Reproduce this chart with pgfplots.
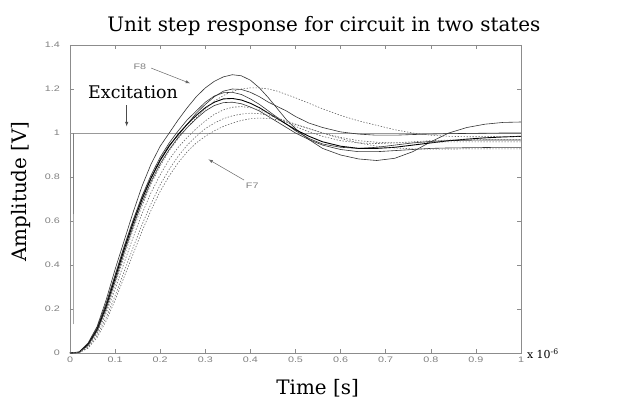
\documentclass[border=0pt]{standalone}
\usepackage{fontspec}
\setmainfont{DejaVu Serif}
\newfontfamily\ticksans{Liberation Sans}
\usepackage{pgfplots}
\pgfplotsset{compat=1.18}
\begin{document}
\begin{tikzpicture}
\begin{axis}[name=ax, scale only axis, width=451bp, height=308bp,
  xmin=0, xmax=1, ymin=0, ymax=1.4, clip=false,
  xtick={0,0.1,0.2,0.3,0.4,0.5,0.6,0.7,0.8,0.9,1},
  xticklabels={0,0.1,0.2,0.3,0.4,0.5,0.6,0.7,0.8,0.9,1},
  ytick={0,0.2,0.4,0.6,0.8,1,1.2,1.4},
  yticklabels={0,0.2,0.4,0.6,0.8,1,1.2,1.4},
  tick label style={font=\ticksans\fontsize{8}{9}\selectfont, text=black!50, xscale=1.35},
  yticklabel style={xshift=-4bp},
  axis line style={black!45, line width=1pt},
  major tick style={black!45, line width=0.6pt}, major tick length=4bp,
  tick align=inside,
  sol/.style={black!80, line width=0.6pt},
  dot/.style={black!60, line width=0.6pt, dash pattern=on 1.4pt off 1.6pt},
]
% excitation
\addplot[black!40, line width=1pt] coordinates {(0,1)(1,1)};
\addplot[black!35, line width=0.8pt] coordinates {(0.008,0.13)(0.008,1)};
\addplot[black!50, line width=1.2pt] coordinates {(0.008,0.63)(0.008,1)};
% F8 (solid)
\addplot[sol] coordinates {(0,0)(0.02,0.005)(0.04,0.045)(0.06,0.12)(0.08,0.24)(0.10,0.38)(0.12,0.51)(0.14,0.64)(0.16,0.76)(0.18,0.86)(0.20,0.94)(0.22,1.0)(0.24,1.06)(0.26,1.115)(0.28,1.165)(0.30,1.205)(0.32,1.235)(0.34,1.255)(0.36,1.265)(0.38,1.26)(0.40,1.24)(0.42,1.205)(0.44,1.16)(0.46,1.11)(0.48,1.06)(0.50,1.02)(0.53,0.97)(0.56,0.93)(0.60,0.90)(0.64,0.882)(0.68,0.875)(0.72,0.885)(0.76,0.915)(0.80,0.96)(0.84,1.0)(0.88,1.025)(0.92,1.04)(0.96,1.048)(1.0,1.05)};
\addplot[sol] coordinates {(0,0)(0.02,0.003)(0.04,0.04)(0.06,0.11)(0.08,0.22)(0.10,0.35)(0.12,0.48)(0.14,0.60)(0.16,0.71)(0.18,0.80)(0.20,0.88)(0.22,0.945)(0.24,0.99)(0.26,1.04)(0.28,1.09)(0.30,1.13)(0.32,1.165)(0.34,1.19)(0.36,1.20)(0.38,1.198)(0.40,1.185)(0.42,1.165)(0.44,1.14)(0.46,1.12)(0.48,1.10)(0.50,1.075)(0.53,1.045)(0.56,1.025)(0.60,1.005)(0.64,0.995)(0.68,0.99)(0.72,0.99)(0.76,0.993)(0.80,0.995)(0.84,0.997)(0.88,0.998)(0.92,0.999)(0.96,1.0)(1.0,1.0)};
\addplot[sol] coordinates {(0,0)(0.02,0.004)(0.04,0.042)(0.06,0.115)(0.08,0.225)(0.10,0.355)(0.12,0.485)(0.14,0.605)(0.16,0.715)(0.18,0.81)(0.20,0.89)(0.22,0.955)(0.24,1.01)(0.26,1.06)(0.28,1.10)(0.30,1.14)(0.32,1.168)(0.34,1.183)(0.36,1.185)(0.38,1.175)(0.40,1.155)(0.42,1.13)(0.44,1.10)(0.46,1.07)(0.48,1.04)(0.50,1.01)(0.53,0.975)(0.56,0.95)(0.60,0.935)(0.64,0.93)(0.68,0.935)(0.72,0.945)(0.76,0.955)(0.80,0.962)(0.84,0.965)(0.88,0.967)(0.92,0.968)(0.96,0.968)(1.0,0.968)};
\addplot[black, line width=0.9pt] coordinates {(0,0)(0.02,0.003)(0.04,0.038)(0.06,0.105)(0.08,0.21)(0.10,0.34)(0.12,0.47)(0.14,0.59)(0.16,0.70)(0.18,0.795)(0.20,0.875)(0.22,0.94)(0.24,0.995)(0.26,1.04)(0.28,1.08)(0.30,1.115)(0.32,1.14)(0.34,1.155)(0.36,1.157)(0.38,1.15)(0.40,1.135)(0.42,1.115)(0.44,1.09)(0.46,1.065)(0.48,1.04)(0.50,1.015)(0.53,0.985)(0.56,0.96)(0.60,0.94)(0.64,0.93)(0.68,0.93)(0.72,0.935)(0.76,0.945)(0.80,0.955)(0.84,0.965)(0.88,0.972)(0.92,0.978)(0.96,0.982)(1.0,0.985)};
\addplot[sol] coordinates {(0,0)(0.02,0.002)(0.04,0.035)(0.06,0.10)(0.08,0.20)(0.10,0.325)(0.12,0.455)(0.14,0.575)(0.16,0.685)(0.18,0.78)(0.20,0.86)(0.22,0.925)(0.24,0.98)(0.26,1.025)(0.28,1.065)(0.30,1.10)(0.32,1.125)(0.34,1.138)(0.36,1.14)(0.38,1.133)(0.40,1.118)(0.42,1.10)(0.44,1.075)(0.46,1.05)(0.48,1.025)(0.50,1.0)(0.53,0.97)(0.56,0.945)(0.60,0.925)(0.64,0.915)(0.68,0.915)(0.72,0.92)(0.76,0.925)(0.80,0.93)(0.84,0.932)(0.88,0.933)(0.92,0.934)(0.96,0.935)(1.0,0.935)};
% F7 (dotted)
\addplot[dot] coordinates {(0,0)(0.02,0.002)(0.04,0.033)(0.06,0.095)(0.08,0.19)(0.10,0.31)(0.12,0.44)(0.14,0.56)(0.16,0.67)(0.18,0.77)(0.20,0.85)(0.22,0.92)(0.24,0.975)(0.26,1.025)(0.28,1.07)(0.30,1.11)(0.32,1.145)(0.34,1.17)(0.36,1.19)(0.38,1.20)(0.40,1.205)(0.42,1.205)(0.44,1.20)(0.46,1.19)(0.48,1.175)(0.50,1.16)(0.53,1.135)(0.56,1.11)(0.60,1.08)(0.64,1.055)(0.68,1.035)(0.72,1.015)(0.76,1.0)(0.80,0.99)(0.84,0.985)(0.88,0.983)(0.92,0.983)(0.96,0.985)(1.0,0.985)};
\addplot[dot] coordinates {(0,0)(0.02,0.002)(0.04,0.03)(0.06,0.09)(0.08,0.18)(0.10,0.29)(0.12,0.41)(0.14,0.525)(0.16,0.635)(0.18,0.73)(0.20,0.81)(0.22,0.88)(0.24,0.935)(0.26,0.98)(0.28,1.02)(0.30,1.055)(0.32,1.085)(0.34,1.105)(0.36,1.117)(0.38,1.12)(0.40,1.115)(0.42,1.105)(0.44,1.09)(0.46,1.07)(0.48,1.05)(0.50,1.03)(0.53,1.005)(0.56,0.985)(0.60,0.965)(0.64,0.955)(0.68,0.952)(0.72,0.955)(0.76,0.96)(0.80,0.965)(0.84,0.968)(0.88,0.97)(0.92,0.97)(0.96,0.97)(1.0,0.97)};
\addplot[dot] coordinates {(0,0)(0.02,0.001)(0.04,0.025)(0.06,0.08)(0.08,0.16)(0.10,0.26)(0.12,0.37)(0.14,0.48)(0.16,0.585)(0.18,0.68)(0.20,0.765)(0.22,0.835)(0.24,0.895)(0.26,0.945)(0.28,0.985)(0.30,1.02)(0.32,1.045)(0.34,1.065)(0.36,1.078)(0.38,1.086)(0.40,1.09)(0.42,1.088)(0.44,1.08)(0.46,1.068)(0.48,1.055)(0.50,1.04)(0.53,1.02)(0.56,1.0)(0.60,0.98)(0.64,0.965)(0.68,0.958)(0.72,0.955)(0.76,0.955)(0.80,0.957)(0.84,0.96)(0.88,0.96)(0.92,0.96)(0.96,0.96)(1.0,0.96)};
\addplot[dot] coordinates {(0,0)(0.02,0.001)(0.04,0.022)(0.06,0.07)(0.08,0.145)(0.10,0.24)(0.12,0.345)(0.14,0.45)(0.16,0.555)(0.18,0.65)(0.20,0.735)(0.22,0.805)(0.24,0.865)(0.26,0.915)(0.28,0.955)(0.30,0.985)(0.32,1.01)(0.34,1.03)(0.36,1.045)(0.38,1.057)(0.40,1.065)(0.42,1.068)(0.44,1.066)(0.46,1.06)(0.48,1.05)(0.50,1.038)(0.53,1.02)(0.56,1.0)(0.60,0.975)(0.64,0.955)(0.68,0.94)(0.72,0.932)(0.76,0.928)(0.80,0.927)(0.84,0.927)(0.88,0.928)(0.92,0.928)(0.96,0.928)(1.0,0.928)};
% annotations
\node[anchor=base west, font=\fontsize{17.5}{20}\selectfont, inner sep=0pt] at (axis cs:0.04,1.155) {Excitation};
\draw[-latex, black!70, line width=0.6pt] (axis cs:0.1257,1.125) -- (axis cs:0.1257,1.03);
\node[font=\ticksans\fontsize{8}{9}\selectfont, text=black!50, inner sep=0pt, xscale=1.35] at (axis cs:0.155,1.301) {F8};
\draw[-latex, black!60, line width=0.5pt] (axis cs:0.18,1.295) -- (axis cs:0.266,1.226);
\node[font=\ticksans\fontsize{8}{9}\selectfont, text=black!50, inner sep=0pt, xscale=1.35] at (axis cs:0.404,0.759) {F7};
\draw[-latex, black!60, line width=0.5pt] (axis cs:0.386,0.786) -- (axis cs:0.307,0.880);
% titles and labels
\node[anchor=base, font=\fontsize{20}{24}\selectfont, inner sep=0pt] at (axis cs:0.563,1.462) {Unit step response for circuit in two states};
\node[anchor=base, font=\fontsize{20}{24}\selectfont, inner sep=0pt] at (axis cs:0.549,-0.19) {Time [s]};
\node[anchor=base, rotate=90, font=\fontsize{20}{24}\selectfont, inner sep=0pt] at (axis cs:-0.097,0.734) {Amplitude [V]};
\node[anchor=base west, font=\fontsize{11}{13}\selectfont, inner sep=0pt] at (axis cs:1.013,-0.023) {x 10\textsuperscript{-6}};
\end{axis}
\pgfresetboundingbox
\path[use as bounding box] ([shift={(-70bp,-50bp)}]ax.south west) rectangle ([shift={(101bp,45bp)}]ax.north east);
\end{tikzpicture}
\end{document}
